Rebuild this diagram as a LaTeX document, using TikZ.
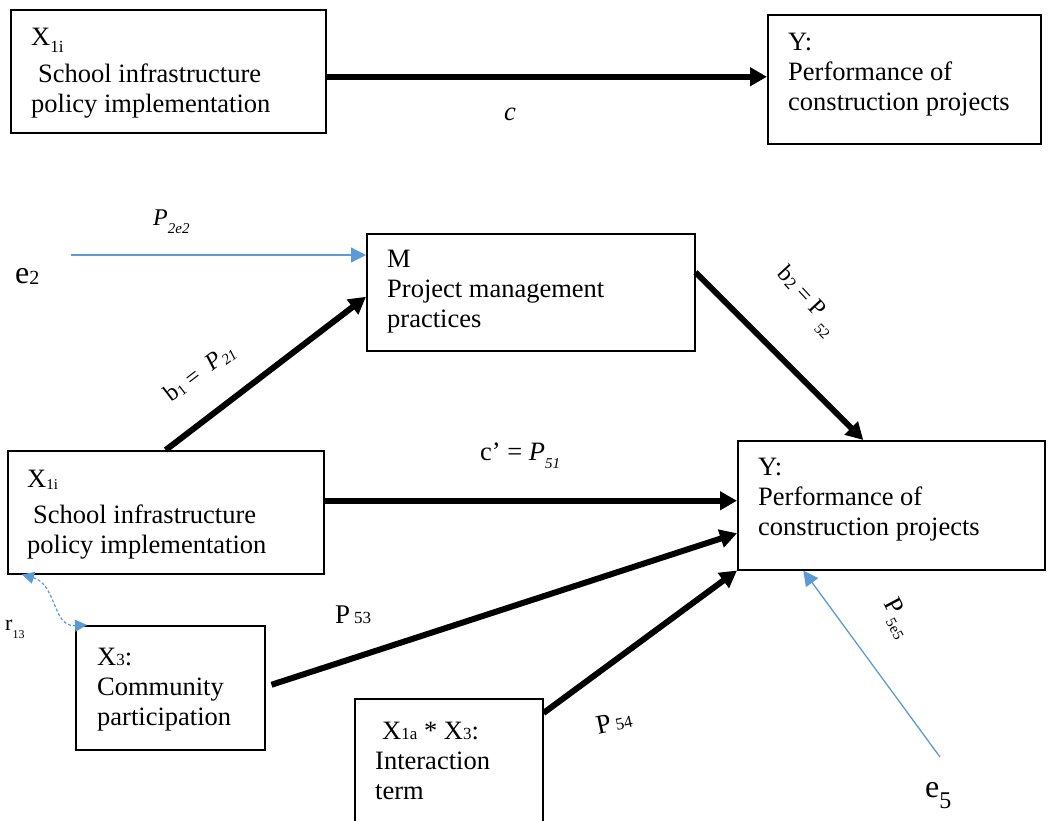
\documentclass[tikz,border=0pt]{standalone}
\usepackage{fontspec}
\setmainfont{Liberation Serif}
\usetikzlibrary{arrows.meta,calc}
\definecolor{errblue}{RGB}{91,155,213}

% lowered, smaller text: \lowsub{shift}{size}{text}
\newcommand{\lowsub}[3]{\raisebox{#1}{\fontsize{#2}{#2}\selectfont #3}}
\newcommand{\setsz}[1]{\fontsize{#1}{#1}\selectfont}

\tikzset{
  box/.style={draw, line width=1.5pt, anchor=north west, inner sep=0pt},
  boxtext/.style={anchor=north west, inner sep=0pt, align=left,
                  font=\fontsize{26.5}{30}\selectfont},
  lbl/.style={inner sep=0pt},
  thickarrow/.style={line width=6pt, -{Triangle[length=17pt,width=18pt]}},
  bluearrow/.style={draw=errblue, line width=1.3pt,
                    -{Triangle[length=15pt,width=15pt,fill=errblue]}},
  bluedouble/.style={draw=errblue, line width=1.2pt, dash pattern=on 3pt off 2pt,
                     {Triangle[length=12pt,width=12pt,fill=errblue]}-{Triangle[length=12pt,width=12pt,fill=errblue]}}
}

\begin{document}
\begin{tikzpicture}[x=1pt,y=1pt]
\useasboundingbox (0,0) rectangle (1061,-820);

% ---- total effect model ----
\node[box, minimum width=315pt, minimum height=123pt] (xt) at (10,-9) {};
\node[boxtext] (xtT) at (31,-28)
  {X\lowsub{-7pt}{17}{1i}\\[6.5pt]\hspace{7pt}School infrastructure\\policy implementation};

\node[box, minimum width=273pt, minimum height=129pt] (yt) at (767,-14) {};
\node[boxtext] (ytT) at (788,-33) {Y:\\Performance of\\construction projects};

\draw[thickarrow] ([yshift=-5.5pt]xt.east) -- ([yshift=-5.5pt]xt.east -| yt.west);
\node[lbl, anchor=base, font=\setsz{26.5}\itshape] (lc) at (510,-120) {c};

% ---- mediation / moderation model ----
\node[box, minimum width=328pt, minimum height=117pt] (mm) at (366,-233) {};
\node[boxtext] (mmT) at (387,-250) {M\\Project management\\practices};

\node[box, minimum width=316pt, minimum height=123pt] (xm) at (7,-450) {};
\node[boxtext] (xmT) at (27,-470)
  {X\lowsub{-1.5pt}{15}{1i}\\[6pt]\hspace{6pt}School infrastructure\\policy implementation};

\node[box, minimum width=307pt, minimum height=129pt] (ym) at (737,-440) {};
\node[boxtext] (ymT) at (758,-458) {Y:\\Performance of\\construction projects};

\node[box, minimum width=189pt, minimum height=124pt] (x3) at (75,-625) {};
\node[boxtext] (x3T) at (97,-648) {X\lowsub{0pt}{17}{3}:\\Community\\participation};

\node[box, minimum width=188pt, minimum height=132pt] (xi) at (354,-698) {};
\node[boxtext] (xiT) at (375,-722)
  {\hspace{7pt}X\lowsub{0pt}{17}{1a} * X\lowsub{0pt}{17}{3}:\\Interaction\\term};

% error terms
\node[lbl, anchor=base west] (le2) at (15,-283) {\setsz{32}e\lowsub{-1pt}{20}{2}};
\coordinate (e2s) at (71,-255);
\node[lbl, anchor=base west] (le5) at (925,-797) {\setsz{32}e\lowsub{-11pt}{24}{5}};
\coordinate (e5s) at (940,-757);

% paths
\draw[bluearrow] (e2s) -- (e2s -| mm.west);
\node[lbl, anchor=base west] (lp2) at (153,-225)
  {\setsz{24}\itshape P\lowsub{-8pt}{15}{\itshape 2e2}};

\draw[thickarrow] (xm.north) -- ([yshift=-4.5pt]mm.west);
\node[lbl, rotate=37.6] (lb1) at (200,-373)
  {\setsz{24}b\lowsub{-1pt}{15}{1} =\ \ \textit{P}\lowsub{-4pt}{15}{\itshape 21}};

\draw[thickarrow] ([yshift=20pt]mm.east) -- ([xshift=-28pt]ym.north);
\node[lbl, rotate=-47] (lb2) at (806,-302)
  {\setsz{24}b\lowsub{-1pt}{17}{2} = P\ \lowsub{-10pt}{15}{52}};

\draw[thickarrow] ([yshift=11.5pt]xm.east) -- ([yshift=11.5pt]xm.east -| ym.west);
\node[lbl, anchor=base west] (lc2) at (480,-460)
  {\setsz{26.5}c’ = \textit{P}\lowsub{-8pt}{15}{\itshape 51}};

\draw[thickarrow] ([xshift=6pt,yshift=3pt]x3.east) -- ([yshift=-28pt]ym.west);
\node[lbl, anchor=base west] (lp53) at (335,-623)
  {\setsz{27}P\hspace{4pt}\lowsub{0pt}{17}{53}};

\draw[thickarrow] ([yshift=-15pt]xi.north east) -- (ym.south west);
\node[lbl, rotate=12] (lp54) at (614,-722)
  {\setsz{27}P\hspace{4pt}\lowsub{0pt}{17}{54}};

\draw[bluearrow] (e5s) -- ([xshift=-88pt]ym.south);
\node[lbl, rotate=-62] (lp5) at (897,-618)
  {\setsz{26}P\hspace{3pt}\lowsub{-7pt}{15}{5e5}};

% correlation between the two predictors
\draw[bluedouble] ([xshift=15pt]xm.south west)
  .. controls +(35pt,-10pt) and +(-35pt,-2pt) .. ([xshift=12pt]x3.north west);
\node[lbl, anchor=base west] (lr13) at (5,-630) {\setsz{22}r\lowsub{-8pt}{12}{13}};
\end{tikzpicture}
\end{document}
